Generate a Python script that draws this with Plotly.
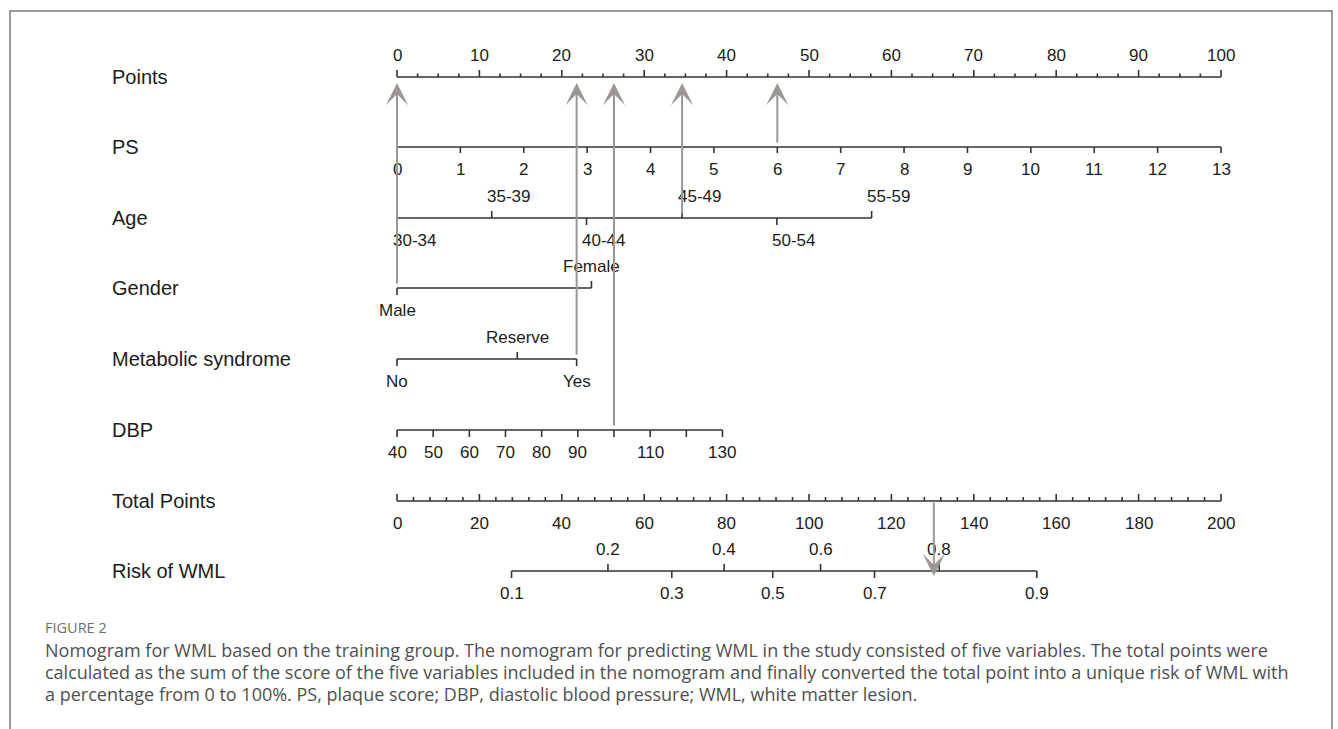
import plotly.graph_objects as go

# ---------------- data ----------------
points_major = [0, 10, 20, 30, 40, 50, 60, 70, 80, 90, 100]
points_minor = [i * 2.5 for i in range(41)]

ps_values = [0, 1, 2, 3, 4, 5, 6, 7, 8, 9, 10, 11, 12, 13]
ps_points_at_max = 100.0          # PS = 13 -> 100 points

age_labels = ["30-34", "35-39", "40-44", "45-49", "50-54", "55-59"]
age_points = [0.0, 11.5, 23.0, 34.6, 46.1, 57.6]
age_side = ["below", "above", "below", "above", "below", "above"]

gender_labels = ["Male", "Female"]
gender_points = [0.0, 23.6]
gender_side = ["below", "above"]

metab_labels = ["No", "Reserve", "Yes"]
metab_points = [0.0, 14.6, 21.8]
metab_side = ["below", "above", "below"]

dbp_values = [40, 50, 60, 70, 80, 90, 100, 110, 120, 130]
dbp_tick_text = ["40", "50", "60", "70", "80", "90", "", "110", "", "130"]
dbp_points_at_max = 39.5          # DBP = 130 -> 39.5 points

total_major = [0, 20, 40, 60, 80, 100, 120, 140, 160, 180, 200]
total_minor = [i * 4 for i in range(51)]

risk_values = [0.1, 0.2, 0.3, 0.4, 0.5, 0.6, 0.7, 0.8, 0.9]
risk_total_points = [27.8, 51.2, 66.7, 79.4, 91.2, 102.8, 115.9, 131.6, 155.3]
risk_side = ["below", "above", "below", "above", "below", "above", "below", "above", "below"]

# example patient drawn with arrows
patient_ps = 6
patient_age = "45-49"
patient_gender = "Male"
patient_metab = "Yes"
patient_dbp = 100
patient_total_points = 130.3      # where the down arrow is drawn on the Total Points axis

row_names = ["Points", "PS", "Age", "Gender", "Metabolic syndrome", "DBP",
             "Total Points", "Risk of WML"]

caption_head = "FIGURE 2"
caption_lines = [
    "Nomogram for WML based on the training group. The nomogram for predicting WML in the study consisted of five variables. The total points were",
    "calculated as the sum of the score of the five variables included in the nomogram and finally converted the total point into a unique risk of WML with",
    "a percentage from 0 to 100%. PS, plaque score; DBP, diastolic blood pressure; WML, white matter lesion.",
]

# ---------------- layout constants ----------------
W, H = 1338, 729
PX0, PX100 = 397.0, 1221.0            # pixel of 0 and 100 points
ppp = (PX100 - PX0) / 100.0
x_lo = -PX0 / ppp
x_hi = x_lo + W / ppp

ROW_Y = {"Points": 77, "PS": 147, "Age": 218, "Gender": 288,
         "Metabolic syndrome": 359, "DBP": 430, "Total Points": 501,
         "Risk of WML": 571}
LBL_OFF = 22
AXIS_COL = "#333333"
ARROW_COL = "#9b9794"
TXT_COL = "#1c1c1c"
FONT = "Liberation Sans, Arial, sans-serif"


def ps_pts(v):
    return v * ps_points_at_max / ps_values[-1]


def dbp_pts(v):
    return (v - dbp_values[0]) * dbp_points_at_max / (dbp_values[-1] - dbp_values[0])


def tot_pts(t):          # total points -> position on the points scale
    return t * 100.0 / total_major[-1]


fig = go.Figure()
annotations = []


def add_axis(name, xs, ticks_up, tick_len, width=1.6):
    y0 = ROW_Y[name]
    lx, ly = [min(xs), max(xs)], [y0, y0]
    for x, up in zip(xs, ticks_up):
        lx += [None, x, x]
        ly += [None, y0, y0 - tick_len if up else y0 + tick_len]
    fig.add_trace(go.Scatter(x=lx, y=ly, mode="lines",
                             line=dict(color=AXIS_COL, width=width),
                             hoverinfo="skip", showlegend=False))


def add_labels(name, xs, texts, sides, size=17, xshift=0):
    y0 = ROW_Y[name]
    for x, t, s in zip(xs, texts, sides):
        if not t:
            continue
        annotations.append(dict(
            x=x, y=y0 - LBL_OFF if s == "above" else y0 + LBL_OFF,
            xref="x", yref="y", text=t, showarrow=False, xshift=xshift,
            xanchor="center", yanchor="middle",
            font=dict(family=FONT, size=size, color=TXT_COL)))


# Points
y = ROW_Y["Points"]
lx, ly = [0, 100], [y, y]
for v in points_minor:
    major = v in points_major
    lx += [None, v, v]
    ly += [None, y, y - (7 if major else 3.5)]
fig.add_trace(go.Scatter(x=lx, y=ly, mode="lines", line=dict(color=AXIS_COL, width=1.6),
                         hoverinfo="skip", showlegend=False))
add_labels("Points", points_major, [str(v) for v in points_major], ["above"] * 11)

# PS
ps_x = [ps_pts(v) for v in ps_values]
add_axis("PS", ps_x, [False] * len(ps_x), 6)
add_labels("PS", ps_x, [str(v) for v in ps_values], ["below"] * len(ps_x))

# Age
add_axis("Age", age_points, [s == "above" for s in age_side], 7)
add_labels("Age", age_points, age_labels, age_side, xshift=17)

# Gender
add_axis("Gender", gender_points, [s == "above" for s in gender_side], 7)
add_labels("Gender", gender_points, gender_labels, gender_side)

# Metabolic syndrome
add_axis("Metabolic syndrome", metab_points, [s == "above" for s in metab_side], 7)
add_labels("Metabolic syndrome", metab_points, metab_labels, metab_side)

# DBP
dbp_x = [dbp_pts(v) for v in dbp_values]
add_axis("DBP", dbp_x, [False] * len(dbp_x), 7)
add_labels("DBP", dbp_x, dbp_tick_text, ["below"] * len(dbp_x))

# Total points
y = ROW_Y["Total Points"]
lx, ly = [tot_pts(0), tot_pts(200)], [y, y]
for v in total_minor:
    major = v in total_major
    lx += [None, tot_pts(v), tot_pts(v)]
    ly += [None, y, y - (7 if major else 4)]
fig.add_trace(go.Scatter(x=lx, y=ly, mode="lines", line=dict(color=AXIS_COL, width=1.6),
                         hoverinfo="skip", showlegend=False))
add_labels("Total Points", [tot_pts(v) for v in total_major],
           [str(v) for v in total_major], ["below"] * len(total_major))

# Risk
risk_x = [tot_pts(t) for t in risk_total_points]
add_axis("Risk of WML", risk_x, [s == "above" for s in risk_side], 7)
add_labels("Risk of WML", risk_x, [f"{v:g}" for v in risk_values], risk_side)

# Row names
for n in row_names:
    annotations.append(dict(x=110 / W, y=ROW_Y[n], xref="paper", yref="y", text=n,
                            showarrow=False, xanchor="left", yanchor="middle",
                            font=dict(family=FONT, size=20, color=TXT_COL)))

# Arrows for the example patient
p_ps = ps_pts(patient_ps)
p_age = age_points[age_labels.index(patient_age)]
p_gender = gender_points[gender_labels.index(patient_gender)]
p_metab = metab_points[metab_labels.index(patient_metab)]
p_dbp = dbp_pts(patient_dbp)
arrow_src = [(p_ps, "PS"), (p_age, "Age"), (p_gender, "Gender"),
             (p_metab, "Metabolic syndrome"), (p_dbp, "DBP")]
tip_y = ROW_Y["Points"] + 6
ARW = dict(showarrow=True, arrowhead=3, arrowsize=1.85, arrowwidth=2,
           arrowcolor=ARROW_COL, standoff=0, text="")
for px_, row in arrow_src:
    annotations.append(dict(x=px_, y=tip_y, ax=px_, ay=ROW_Y[row] - 3,
                            xref="x", yref="y", axref="x", ayref="y", **ARW))
annotations.append(dict(x=tot_pts(patient_total_points), y=ROW_Y["Risk of WML"] + 5,
                        ax=tot_pts(patient_total_points), ay=ROW_Y["Total Points"],
                        xref="x", yref="y", axref="x", ayref="y", **ARW))

# Caption
annotations.append(dict(x=43 / W, y=627, xref="paper", yref="y", text=caption_head,
                        showarrow=False, xanchor="left", yanchor="middle",
                        font=dict(family="Open Sans, sans-serif", size=14.5, color="#707070")))
for i, line in enumerate(caption_lines):
    annotations.append(dict(x=43 / W, y=650 + 22 * i, xref="paper", yref="y", text=line,
                            showarrow=False, xanchor="left", yanchor="middle",
                            font=dict(family="Open Sans, sans-serif", size=18, color="#505050")))

# Frame (open at the bottom)
fig.add_shape(type="path", xref="paper", yref="paper",
              path=f"M {10/W},0 L {10/W},{1-11/H} L {1332/W},{1-11/H} L {1332/W},0",
              line=dict(color="#7a7a7a", width=1.5))

fig.update_layout(
    width=W, height=H, margin=dict(l=0, r=0, t=0, b=0),
    paper_bgcolor="white", plot_bgcolor="white",
    xaxis=dict(range=[x_lo, x_hi], visible=False, fixedrange=True),
    yaxis=dict(range=[H, 0], visible=False, fixedrange=True),
    annotations=annotations, showlegend=False,
)

fig.write_html("out.html", config={"displayModeBar": False},
               post_script="document.body.style.margin='0';")
